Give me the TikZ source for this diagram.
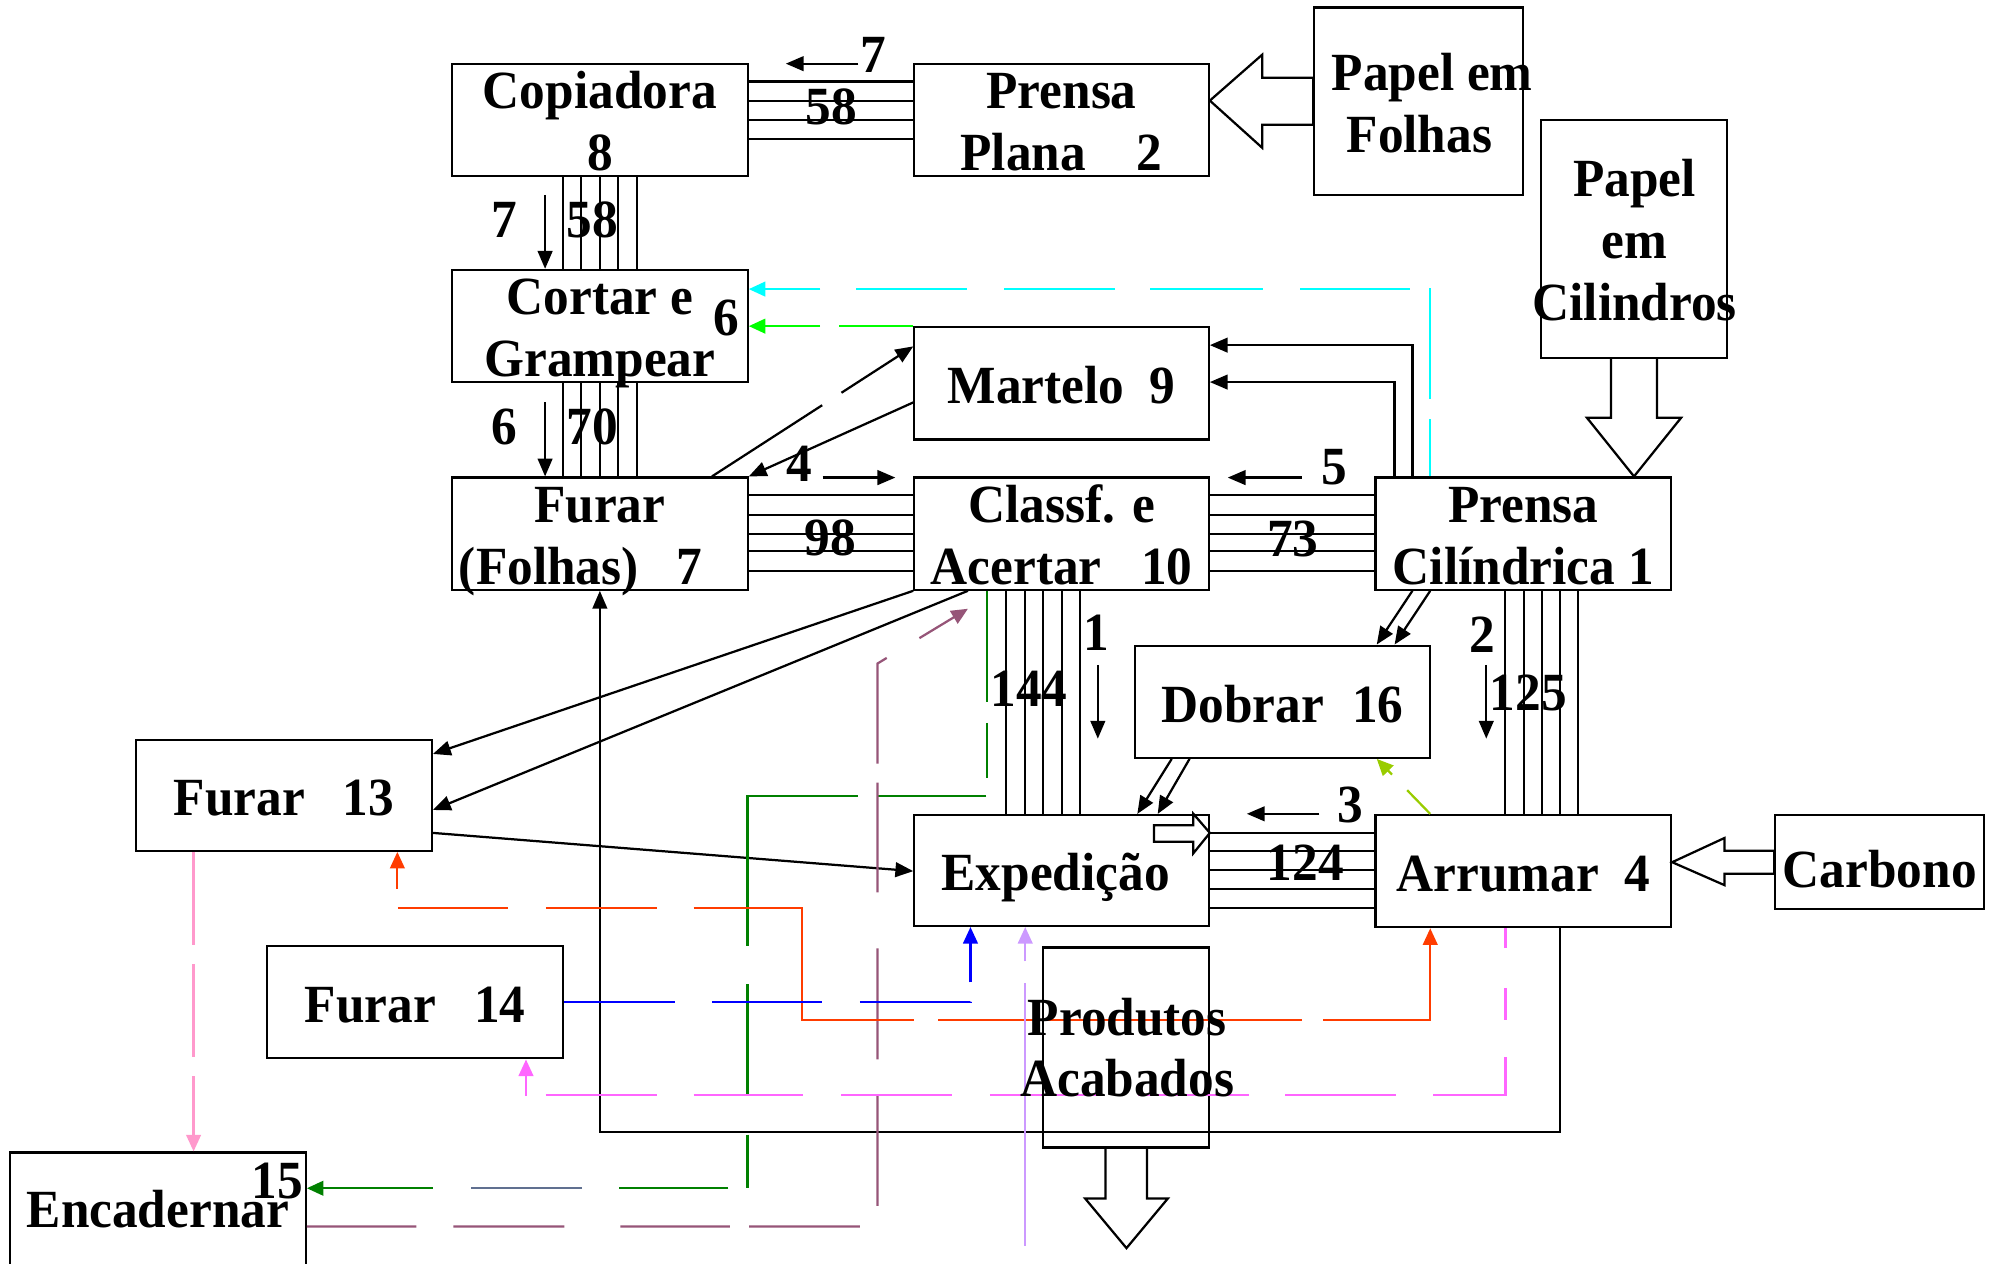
\documentclass[tikz,border=0pt]{standalone}
\usepackage{fontspec}
\setmainfont{Liberation Serif}[FakeStretch=0.955]
\usepackage{xcolor}
\usepackage{tikz}
\usetikzlibrary{arrows.meta}

\definecolor{cyanline}{RGB}{0,255,255}
\definecolor{limeline}{RGB}{0,255,0}
\definecolor{yelline}{RGB}{153,204,0}
\definecolor{greenline}{RGB}{0,128,0}
\definecolor{slateline}{RGB}{96,112,144}
\definecolor{mauveline}{RGB}{150,85,120}
\definecolor{redline}{RGB}{255,60,0}
\definecolor{blueline}{RGB}{0,0,255}
\definecolor{magline}{RGB}{255,102,255}
\definecolor{lavline}{RGB}{204,153,255}
\definecolor{pinkline}{RGB}{255,153,204}

\begin{document}
\begin{tikzpicture}[x=0.01cm,y=-0.01cm,
  every node/.style={font=\fontsize{12}{13.8}\selectfont\bfseries},
  box/.style={draw,line width=0.5pt,minimum width=2.32cm,minimum height=0.88cm,inner sep=0pt,
    align=center,text height=12.7pt,text depth=3.6pt},
  txt/.style={inner sep=0pt,align=center,text height=12.7pt,text depth=3.6pt},
  two/.style={text height=23.8pt,text depth=1.2pt},
  three/.style={text height=37pt,text depth=0.6pt},
  num/.style={inner sep=0pt},
  bund/.style={line width=0.45pt},
  arr/.style={line width=0.5pt,-{Triangle[length=1.4mm,width=1.15mm]}},
  flow/.style={line width=0.5pt,dash pattern=on 0.87cm off 0.29cm,-{Triangle[length=1.3mm,width=1.15mm]}},
  hollow/.style={draw,line width=0.5pt}]
 \clip (0,0) rectangle (1568,992);

 % stations
 \node[box,two] (copy) at (471,94) {Copiadora\\8};
 \node[box,two,minimum width=2.31cm] (plana) at (833.5,94) {Prensa\\Plana\hspace{0.4cm}2};
 \node[box,minimum width=1.64cm,minimum height=1.47cm] (folhas) at (1114,79.5) {};
 \node[box,minimum width=1.46cm,minimum height=1.87cm] (cilind) at (1283,187.5) {};
 \node[box,two] (cort) at (471,256) {Cortar e\\Grampear};
 \node[box,minimum width=2.31cm] (mart) at (833.5,301) {Martelo\hspace{0.2cm}9};
 \node[box,two] (furar7) at (471,419) {Furar\\(Folhas)\hspace{0.3cm}7\hspace{0.3cm}\mbox{}};
 \node[box,two,minimum width=2.31cm] (classf) at (833.5,419) {Classf. e\\Acertar\hspace{0.31cm}10};
 \node[box,two] (prensa) at (1196,419) {Prensa\\Cilíndrica 1};
 \node[box] (dobrar) at (1007,551) {Dobrar\hspace{0.22cm}16};
 \node[box,minimum height=0.87cm] (f13) at (223,624.5) {Furar\hspace{0.3cm}13};
 \node[box,minimum width=2.31cm,minimum height=0.87cm] (exped) at (833.5,683.5) {Expedição\hspace{0.09cm}\mbox{}};
 \node[box] (arrumar) at (1196,684) {Arrumar\hspace{0.2cm}4};
 \node[box,minimum width=1.64cm,minimum height=0.74cm] (carbono) at (1476,677) {\raisebox{-0.04cm}{Carbono}};
 \node[box] (f14) at (326,787) {Furar\hspace{0.3cm}14};
 \node[box,minimum height=1.75cm] (encad) at (124,992.5) {};
 \node[box,minimum width=1.3cm,minimum height=1.57cm] (prod) at (884,822.5) {};

 \node[txt,two] (folhastxt) at (1124.5,80) {Papel em\\Folhas\hspace{0.2cm}\mbox{}};
 \node[txt,three] (cilindtxt) at (1283.5,187.5) {Papel\\em\\Cilindros};
 \node[num] (cortnum) at (570,250) {6};
 \node[txt] (encadtxt) at (124,948) {Encadernar};
 \node[num] (encadnum) at (218,927) {15};

 % parallel flow bundles
 \foreach \y in {64,79,94,109}
   \draw[bund] (copy.east |- 0,\y) -- (plana.west |- 0,\y);
 \foreach \x in {442,456.5,471,485.5,500} {
   \draw[bund] (copy.south -| \x,0) -- (cort.north -| \x,0);
   \draw[bund] (cort.south -| \x,0) -- (furar7.north -| \x,0);
 }
 \foreach \y in {389,404,419,433,448} {
   \draw[bund] (furar7.east |- 0,\y) -- (classf.west |- 0,\y);
   \draw[bund] (classf.east |- 0,\y) -- (prensa.west |- 0,\y);
 }
 \foreach \x in {790,804.5,819,833.5,848}
   \draw[bund] (classf.south -| \x,0) -- (exped.north -| \x,0);
 \foreach \x in {1182,1196.5,1211,1225,1239}
   \draw[bund] (prensa.south -| \x,0) -- (arrumar.north -| \x,0);
 \foreach \y in {654,668.5,683,698,713}
   \draw[bund] (exped.east |- 0,\y) -- (arrumar.west |- 0,\y);

 % quantities
 \node[num] (q7a) at (686,43) {7};
 \node[num] (q58a) at (653,84) {58};
 \node[num] (q7b) at (396,173) {7};
 \node[num] (q58b) at (465,173) {58};
 \node[num] (q6) at (396,335) {6};
 \node[num] (q70) at (465,335) {70};
 \node[num] (q4) at (628,364) {4};
 \node[num] (q98) at (652,422) {98};
 \node[num] (q5) at (1048,367) {5};
 \node[num] (q73) at (1015,423) {73};
 \node[num] (q1) at (861,497) {1};
 \node[num] (q144) at (808,541) {144};
 \node[num] (q2) at (1164,498) {2};
 \node[num] (q125) at (1200,544) {125};
 \node[num] (q3) at (1060,632) {3};
 \node[num] (q124) at (1025,677) {124};
 \draw[arr] (674,50) -- (617,50);
 \draw[arr] (428,153) -- (cort.north -| 428,0);
 \draw[arr] (428,316) -- (furar7.north -| 428,0);
 \draw[arr] (646,375) -- (703,375);
 \draw[arr] (1022,375) -- (964,375);
 \draw[arr] (862,522) -- (862,580);
 \draw[arr] (1167,522) -- (1167,580);
 \draw[arr] (1036,639) -- (979,639);

 % single routes
 \draw[arr] (prensa.north -| 1109,0) |- (mart.east |- 0,271);
 \draw[arr] (prensa.north -| 1095,0) |- (mart.east |- 0,300);
 \draw[arr] (prensa.south -| 1109,0) -- (dobrar.north -| 1081,0);
 \draw[arr] (prensa.south -| 1123,0) -- (dobrar.north -| 1095,0);
 \draw[arr] (dobrar.south -| 920,0) -- (exped.north -| 893,0);
 \draw[arr] (dobrar.south -| 934,0) -- (exped.north -| 909,0);
 \draw[arr,dash pattern=on 1.03cm off 0.18cm] (furar7.north -| 559,0) -- (mart.west |- 0,272);
 \draw[arr] (mart.west |- 0,316) -- (furar7.north east);
 \draw[arr] (classf.south west) -- (f13.east |- 0,592);
 \draw[arr] (classf.south -| 760,0) -- (f13.east |- 0,636);
 \draw[arr] (f13.east |- 0,654) -- (exped.west |- 0,684);
 \draw[arr] (arrumar.south -| 1225,0) |- (471,889) -- (furar7.south);

 % coloured routes
 \draw[flow,cyanline,dash pattern=on 0.45cm off 0.156cm on 0.875cm off 0.15cm on 0.86cm off 0.295cm
   on 0.88cm off 0.28cm on 0.87cm off 0.29cm on 0.87cm off 0.28cm on 2cm]
   (prensa.north -| 1123,0) |- (cort.east |- 0,227);
 \draw[flow,limeline,dash pattern=on 0.58cm off 0.15cm] (mart.north west) -- (cort.east |- mart.north west);
 \draw[flow,yelline,dash pattern=on 0.26cm off 0.17cm] (arrumar.north -| 1123,0) -- (dobrar.south -| 1081,0);
 \draw[greenline,line width=0.5pt,dash pattern=on 0.876cm off 0.16cm on 0.43cm off 0.15cm on 0.86cm
   off 0.15cm on 2.04cm off 0.3cm on 0.87cm off 0.31cm on 0.44cm off 1cm]
   (classf.south -| 775,0) |- (587,625) -- (587,933);
 \draw[flow,greenline,dash pattern=on 0cm off 0.15cm on 0.86cm off 1.46cm on 3cm] (587,933) -- (encad.east |- 0,933);
 \draw[slateline,line width=0.5pt] (457,933) -- (370,933);
 \draw[flow,mauveline,dash pattern=on 0.86cm off 0.29cm on 0.87cm off 0.44cm on 0.86cm off 0.15cm on 0.87cm off 0.3cm]
   (encad.east |- 0,963) -| (689,521) -- (760,478);
 \draw[flow,redline,{Triangle[length=1.3mm,width=1.15mm]}-{Triangle[length=1.3mm,width=1.15mm]},
   dash pattern=on 0.166cm off 0.154cm on 0.865cm off 0.295cm on 0.87cm off 0.29cm on 2.61cm off 0.19cm
   on 2.85cm off 0.17cm on 3cm off 1cm]
   (f13.south -| 312,0) -- (312,713) -| (630,801) -| (arrumar.south -| 1123,0);
 \draw[flow,blueline,dash pattern=on 0.87cm off 0.29cm on 0.86cm off 0.3cm on 0.875cm off 0.15cm on 1cm off 1cm]
   (f14.east) -| (exped.south -| 762,0);
 \draw[flow,magline,{Triangle[length=1.3mm,width=1.15mm]}-,dash pattern=on 0.16cm off 0.15cm on 0.87cm off 0.29cm
   on 0.86cm off 0.3cm on 0.865cm off 0.3cm on 0.87cm off 0.29cm on 0.87cm off 0.29cm on 0.87cm off 0.29cm
   on 0.87cm off 0.29cm on 0.25cm off 0.31cm on 2cm]
   (f14.south -| 413,0) -- (413,860) -| (arrumar.south -| 1182,0);
 \coordinate (lavfoot) at (805,978);
 \draw[flow,lavline,dash pattern=on 2.06cm off 0.17cm] (lavfoot) -- (exped.south -| 805,0);
 \draw[flow,pinkline,dash pattern=on 0.73cm off 0.15cm] (f13.south -| 152,0) -- (encad.north -| 152,0);

 % supply and output arrows
 \draw[hollow] (plana.east |- 0,79) -- (991,43) -- (991,61) -- (folhas.west |- 0,61)
   -- (folhas.west |- 0,98) -- (991,98) -- (991,116) -- cycle;
 \draw[hollow] (cilind.south -| 1265,0) -- (1265,328) -- (1246,328) -- (prensa.north -| 1283,0)
   -- (1320,328) -- (1301,328) -- (cilind.south -| 1301,0);
 \draw[hollow] (arrumar.east |- 0,677) -- (1354,658) -- (1354,668) -- (carbono.west |- 0,668)
   -- (carbono.west |- 0,686) -- (1354,686) -- (1354,695) -- cycle;
 \draw[hollow] (prod.south -| 868,0) -- (868,941) -- (852,941) -- (884.5,980) -- (917,941)
   -- (900.6,941) -- (prod.south -| 900.6,0);
 \draw[hollow] (906,648) -- (937,648) -- (937,639) -- (exped.east |- 0,654) -- (937,670)
   -- (937,661) -- (906,661) -- cycle;

 \node[txt,two] (prodtxt) at (885,821.5) {Produtos\\Acabados};
\end{tikzpicture}
\end{document}
